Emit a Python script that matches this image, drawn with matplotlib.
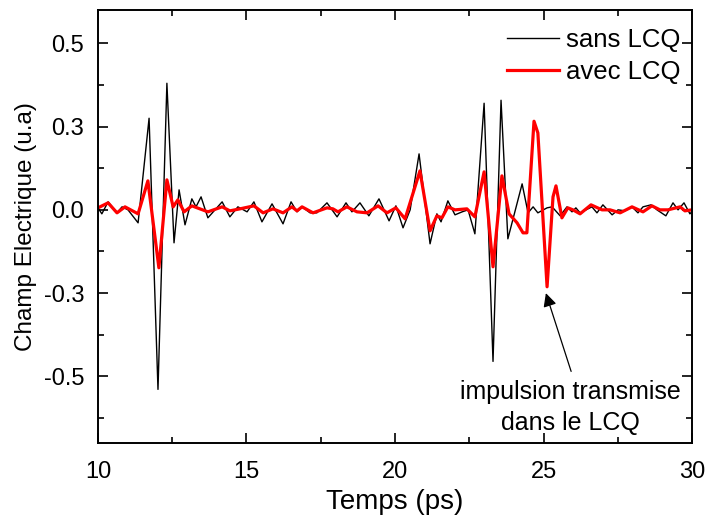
import matplotlib
matplotlib.use("Agg")
import matplotlib.pyplot as plt
from matplotlib.ticker import MultipleLocator

plt.rcParams['font.family'] = ['Liberation Sans', 'DejaVu Sans']

# signal sans LCQ
t_sans = [10.0, 10.13, 10.34, 10.64, 10.81, 11.01, 11.35, 11.72, 12.02, 12.32,
          12.56, 12.73, 12.93, 13.16, 13.30, 13.47, 13.70, 14.18, 14.44, 14.71,
          15.02, 15.25, 15.52, 15.86, 16.23, 16.50, 16.70, 16.87, 17.14, 17.37,
          17.71, 18.05, 18.35, 18.55, 18.82, 19.12, 19.46, 19.80, 20.03, 20.27,
          20.51, 20.81, 21.18, 21.41, 21.55, 21.78, 22.02, 22.26, 22.46, 22.69,
          23.00, 23.30, 23.57, 23.80, 24.28, 24.48, 24.65, 24.81, 25.12, 25.29,
          25.56, 25.79, 25.96, 26.09, 26.23, 26.63, 26.80, 27.00, 27.31, 27.51,
          27.74, 27.98, 28.18, 28.35, 28.62, 28.82, 29.12, 29.36, 29.53, 29.73,
          29.93, 30.0]
e_sans = [0.006, -0.012, 0.024, -0.009, 0.009, 0.0, -0.039, 0.275, -0.539, 0.380,
          -0.099, 0.060, -0.045, 0.033, 0.009, 0.039, -0.024, 0.024, -0.021, 0.009,
          -0.006, 0.024, -0.036, 0.018, -0.042, 0.024, -0.006, 0.009, -0.009, -0.009,
          0.021, -0.021, 0.021, -0.006, 0.021, -0.018, 0.033, -0.033, 0.012, -0.054,
          0.0, 0.168, -0.102, -0.012, -0.036, 0.027, -0.015, -0.006, 0.0, -0.072,
          0.320, -0.455, 0.329, -0.087, 0.078, -0.009, 0.009, -0.009, 0.006, 0.009,
          -0.018, 0.009, -0.006, 0.006, -0.009, 0.009, -0.009, 0.015, -0.015, 0.0,
          -0.003, 0.009, -0.009, 0.009, 0.015, 0.0, -0.018, 0.021, 0.0, 0.021,
          -0.012, -0.005]

# signal avec LCQ
t_avec = [10.0, 10.34, 10.64, 10.91, 11.35, 11.68, 12.05, 12.32, 12.53, 12.69,
          12.90, 13.16, 13.70, 14.18, 14.44, 14.78, 15.25, 15.56, 15.89, 16.23,
          16.53, 16.70, 16.87, 17.24, 17.71, 17.91, 18.08, 18.38, 18.72, 19.06,
          19.43, 19.73, 20.03, 20.34, 20.84, 21.18, 21.41, 21.58, 21.78, 22.02,
          22.42, 22.69, 23.00, 23.30, 23.60, 23.84, 24.11, 24.31, 24.44, 24.68,
          24.81, 25.12, 25.32, 25.42, 25.62, 25.82, 25.99, 26.23, 26.60, 26.97,
          27.24, 27.58, 27.98, 28.35, 28.65, 28.92, 29.19, 29.60, 29.76, 30.0]
e_avec = [0.006, 0.021, -0.009, 0.009, -0.012, 0.087, -0.174, 0.090, 0.009, 0.030,
          -0.006, 0.012, -0.006, 0.009, -0.003, 0.003, 0.012, -0.009, 0.003, -0.009,
          0.009, -0.003, 0.009, -0.009, 0.006, 0.003, -0.006, 0.009, -0.006, -0.009,
          0.012, -0.009, 0.006, -0.027, 0.117, -0.063, -0.018, -0.024, 0.009, 0.0,
          0.003, -0.021, 0.114, -0.171, 0.102, -0.012, -0.039, -0.069, -0.069, 0.266,
          0.231, -0.231, 0.039, 0.072, -0.024, 0.006, 0.0, -0.012, 0.015, 0.0,
          0.0, -0.009, 0.009, -0.006, 0.012, 0.0, 0.0, 0.009, -0.003, 0.0]

yticks = [-0.5, -0.25, 0.0, 0.25, 0.5]
ytick_labels = ['-0.5', '-0.3', '0.0', '0.3', '0.5']

fig = plt.figure(figsize=(7.07, 5.17), dpi=100)
ax = fig.add_axes([0.1386, 0.1431, 0.8402, 0.8376])

ax.plot(t_sans, e_sans, color='black', lw=1.0, label='sans LCQ')
ax.plot(t_avec, e_avec, color='red', lw=2.3, label='avec LCQ')

ax.set_xlim(10, 30)
ax.set_ylim(-0.7, 0.6)
ax.xaxis.set_major_locator(MultipleLocator(5))
ax.xaxis.set_minor_locator(MultipleLocator(2.5))
ax.set_yticks(yticks)
ax.set_yticklabels(ytick_labels)
ax.yaxis.set_minor_locator(MultipleLocator(0.125))
ax.tick_params(which='both', direction='in', top=True, right=True,
               labelsize=17, width=1.2)
ax.tick_params(which='major', length=7)
ax.tick_params(axis='y', which='major', pad=10)
ax.tick_params(axis='x', which='major', pad=13)
ax.tick_params(which='minor', length=4)
for s in ax.spines.values():
    s.set_linewidth(1.4)

ax.set_xlabel('Temps (ps)', fontsize=20, labelpad=4)
ax.set_ylabel('Champ Electrique (u.a)', fontsize=17.5, labelpad=5)

ax.legend(loc='upper right', bbox_to_anchor=(1.005, 0.99), frameon=False,
          fontsize=18.5, handlelength=2.0, handletextpad=0.3,
          labelspacing=0.3, borderaxespad=0.15)

ax.annotate('', xy=(25.08, -0.25), xytext=(25.93, -0.485),
            arrowprops=dict(arrowstyle='-|>', color='black', lw=0.9,
                            mutation_scale=20, shrinkA=0, shrinkB=0))
ax.text(25.89, -0.512, 'impulsion transmise\ndans le LCQ', fontsize=18,
        ha='center', va='top', linespacing=1.35)

fig.savefig('out.png', dpi=100)
